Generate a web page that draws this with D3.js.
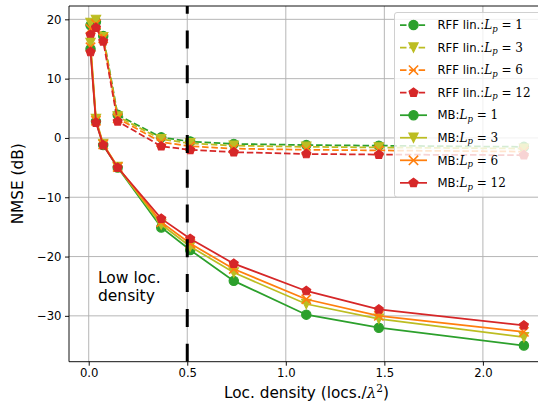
<!DOCTYPE html>
<html><head><meta charset="utf-8">
<script src="https://cdn.jsdelivr.net/npm/d3@7/dist/d3.min.js"></script>
<style>
body{margin:0;background:#fff}
svg{display:block}
text{font-family:"DejaVu Sans",sans-serif;fill:#000}
</style>
</head><body>
<svg id="c" width="538" height="405"></svg>
<script>
// ---------- data ----------
const density = [0.0092, 0.0368, 0.0736, 0.147, 0.368, 0.515, 0.736, 1.104, 1.472, 2.208];
const lpValues = ["1", "3", "6", "12"];
const rffLp1  = [19.0, 19.6, 17.2, 3.9, 0.1, -0.6, -1.0, -1.2, -1.3, -1.5];
const rffLp3  = [19.4, 19.9, 17.0, 3.6, -0.2, -0.9, -1.3, -1.5, -1.6, -1.8];
const rffLp6  = [18.4, 19.2, 16.8, 3.3, -0.7, -1.4, -1.8, -2.0, -2.1, -2.3];
const rffLp12 = [17.4, 18.6, 16.3, 2.8, -1.4, -2.0, -2.4, -2.7, -2.8, -2.9];
const mbLp1   = [15.0, 2.8, -1.2, -5.0, -15.1, -18.9, -24.1, -29.8, -32.0, -35.0];
const mbLp3   = [16.0, 3.2, -1.0, -4.9, -14.6, -18.3, -22.7, -28.0, -30.5, -33.6];
const mbLp6   = [15.3, 2.9, -1.1, -4.9, -14.2, -17.8, -22.1, -27.2, -30.0, -32.7];
const mbLp12  = [14.5, 2.6, -1.2, -5.0, -13.6, -17.0, -21.2, -25.8, -28.9, -31.6];
const xTicks = [0, 0.5, 1.0, 1.5, 2.0];
const yTicks = [-30, -20, -10, 0, 10, 20];
const thresholdDensity = 0.5;

const colors = ["#2ca02c", "#bcbd22", "#ff7f0e", "#d62728"];
const markerKinds = ["circle", "tri", "x", "pent"];

const series = [
  {prefix: "RFF lin.:", lp: 0, vals: rffLp1,  dashed: true},
  {prefix: "RFF lin.:", lp: 1, vals: rffLp3,  dashed: true},
  {prefix: "RFF lin.:", lp: 2, vals: rffLp6,  dashed: true},
  {prefix: "RFF lin.:", lp: 3, vals: rffLp12, dashed: true},
  {prefix: "MB:", lp: 0, vals: mbLp1,  dashed: false},
  {prefix: "MB:", lp: 1, vals: mbLp3,  dashed: false},
  {prefix: "MB:", lp: 2, vals: mbLp6,  dashed: false},
  {prefix: "MB:", lp: 3, vals: mbLp12, dashed: false},
];

// ---------- layout ----------
const L = 69, R = 544, T = 6, B = 361.7;
const x = d3.scaleLinear().domain([-0.1, 2.31]).range([L, R]);
const y = d3.scaleLinear().domain([-37.73, 22.25]).range([B, T]);

const svg = d3.select("#c");
svg.append("defs").append("clipPath").attr("id", "clip")
  .append("rect").attr("x", L).attr("y", T).attr("width", R - L).attr("height", B - T);

// grid
const grid = svg.append("g");
xTicks.forEach(t => grid.append("line").attr("x1", x(t)).attr("x2", x(t)).attr("y1", T).attr("y2", B)
  .attr("stroke", "#b0b0b0").attr("stroke-width", 0.93));
yTicks.forEach(t => grid.append("line").attr("x1", L).attr("x2", R).attr("y1", y(t)).attr("y2", y(t))
  .attr("stroke", "#b0b0b0").attr("stroke-width", 0.93));

// marker drawing
const MS = 9.3;
function drawMarker(g, kind, cx, cy, color) {
  const s = MS / 2;
  if (kind === "circle") {
    g.append("circle").attr("cx", cx).attr("cy", cy).attr("r", s)
      .attr("fill", color).attr("stroke", color).attr("stroke-width", 1.17);
  } else if (kind === "tri") {
    g.append("path").attr("d", `M${cx},${cy + s}L${cx - s},${cy - s}L${cx + s},${cy - s}Z`)
      .attr("fill", color).attr("stroke", color).attr("stroke-width", 1.17).attr("stroke-linejoin", "miter");
  } else if (kind === "pent") {
    const pts = d3.range(5).map(i => {
      const a = -Math.PI / 2 + i * 2 * Math.PI / 5;
      return [cx + s * Math.cos(a), cy + s * Math.sin(a)];
    });
    g.append("path").attr("d", "M" + pts.map(p => p.join(",")).join("L") + "Z")
      .attr("fill", color).attr("stroke", color).attr("stroke-width", 1.17);
  } else if (kind === "x") {
    g.append("path").attr("d", `M${cx - s},${cy - s}L${cx + s},${cy + s}M${cx - s},${cy + s}L${cx + s},${cy - s}`)
      .attr("fill", "none").attr("stroke", color).attr("stroke-width", 1.6);
  }
}

// series
const plot = svg.append("g").attr("clip-path", "url(#clip)");
const line = d3.line().x((d, i) => x(density[i])).y(d => y(d));
series.forEach(s => {
  const g = plot.append("g");
  g.append("path").attr("d", line(s.vals)).attr("fill", "none")
    .attr("stroke", colors[s.lp]).attr("stroke-width", 1.75)
    .attr("stroke-dasharray", s.dashed ? "6.5,2.8" : null);
  s.vals.forEach((v, i) => drawMarker(g, markerKinds[s.lp], x(density[i]), y(v), colors[s.lp]));
});

// vertical threshold line (drawn from bottom upwards)
plot.append("line").attr("x1", x(thresholdDensity)).attr("x2", x(thresholdDensity))
  .attr("y1", B).attr("y2", T).attr("stroke", "#000").attr("stroke-width", 3)
  .attr("stroke-dasharray", "18,16.8");

// annotation
const ann = svg.append("text").attr("font-size", 15.5);
ann.append("tspan").attr("x", x(0.047)).attr("y", 283).text("Low loc.");
ann.append("tspan").attr("x", x(0.047)).attr("y", 300.5).text("density");

// axes
const fmtX = d => d3.format(".1f")(d);
const fmtY = d => (d < 0 ? "\u2212" + Math.abs(d) : String(d));
const xAxis = svg.append("g").attr("transform", `translate(0,${B})`)
  .call(d3.axisBottom(x).tickValues(xTicks).tickFormat(fmtX).tickSize(4).tickPadding(3.5).tickSizeOuter(0));
const yAxis = svg.append("g").attr("transform", `translate(${L},0)`)
  .call(d3.axisLeft(y).tickValues(yTicks).tickFormat(fmtY).tickSize(4).tickPadding(3.5).tickSizeOuter(0));
[xAxis, yAxis].forEach(a => {
  a.selectAll("text").attr("font-size", 11.67).attr("font-family", "DejaVu Sans").attr("fill", "#000");
  a.selectAll(".tick line").attr("stroke", "#000").attr("stroke-width", 0.93);
  a.select(".domain").remove();
});
// spines
svg.append("line").attr("x1", L).attr("x2", R).attr("y1", B).attr("y2", B).attr("stroke", "#000").attr("stroke-width", 0.93);
svg.append("line").attr("x1", L).attr("x2", L).attr("y1", T).attr("y2", B).attr("stroke", "#000").attr("stroke-width", 0.93);
svg.append("line").attr("x1", L).attr("x2", R).attr("y1", T).attr("y2", T).attr("stroke", "#000").attr("stroke-width", 0.93);
svg.append("line").attr("x1", R).attr("x2", R).attr("y1", T).attr("y2", B).attr("stroke", "#000").attr("stroke-width", 0.93);

// axis labels
const xl = svg.append("text").attr("x", (L + R) / 2).attr("y", 398).attr("text-anchor", "middle").attr("font-size", 15.3);
xl.append("tspan").text("Loc. density (locs./");
xl.append("tspan").attr("font-family", "DejaVu Serif").attr("font-style", "italic").text("\u03bb");
xl.append("tspan").attr("font-family", "DejaVu Serif").attr("font-size", 10.5).attr("dy", -6.5).text("2");
xl.append("tspan").attr("dy", 6.5).text(")");

svg.append("text").attr("transform", `translate(23,${(T + B) / 2}) rotate(-90)`)
  .attr("text-anchor", "middle").attr("font-size", 15.3).text("NMSE (dB)");

// legend
const lg = svg.append("g");
lg.append("rect").attr("x", 394.5).attr("y", 12.5).attr("width", 150).attr("height", 184.5)
  .attr("rx", 2.5).attr("fill", "#fff").attr("fill-opacity", 0.8)
  .attr("stroke", "#cccccc").attr("stroke-width", 0.93);
const rowY0 = 25, rowDY = 22.55;
series.forEach((s, i) => {
  const cy = rowY0 + i * rowDY;
  const g = lg.append("g");
  g.append("line").attr("x1", 400).attr("x2", 427).attr("y1", cy).attr("y2", cy)
    .attr("stroke", colors[s.lp]).attr("stroke-width", 1.75)
    .attr("stroke-dasharray", s.dashed ? "6.5,2.8" : null);
  drawMarker(g, markerKinds[s.lp], 413.5, cy, colors[s.lp]);
  const t = g.append("text").attr("x", 437.5).attr("y", cy + 4.2).attr("font-size", 11.67);
  t.append("tspan").text(s.prefix);
  t.append("tspan").attr("font-family", "DejaVu Serif").attr("font-style", "italic").attr("font-size", 12).text("L");
  t.append("tspan").attr("font-family", "DejaVu Serif").attr("font-style", "italic").attr("font-size", 8.5).attr("dy", 2.5).text("p");
  t.append("tspan").attr("font-family", "DejaVu Serif").attr("font-size", 12).attr("dy", -2.5).text(" = " + lpValues[s.lp]);
});
</script>
</body></html>
